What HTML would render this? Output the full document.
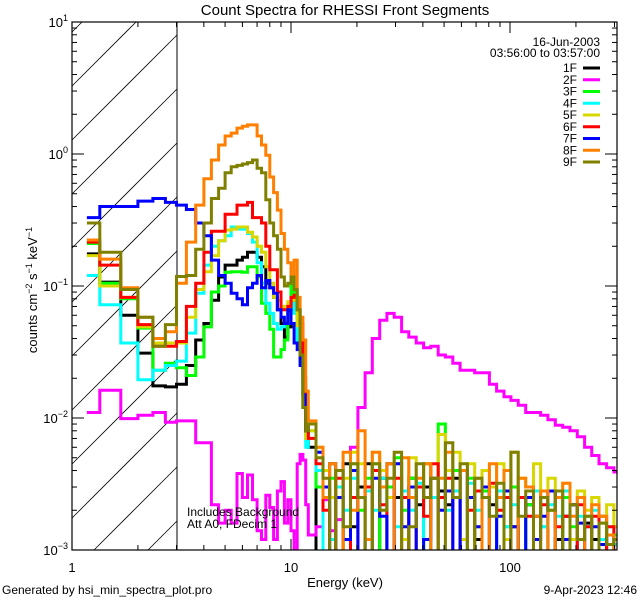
<!DOCTYPE html>
<html><head><meta charset="utf-8">
<style>
html,body{margin:0;padding:0;background:#fff;overflow:hidden;}
svg{display:block;font-family:"Liberation Sans",sans-serif;}
</style></head>
<body>
<svg id="chart" width="640" height="600" viewBox="0 0 640 600" xmlns="http://www.w3.org/2000/svg">
<defs><clipPath id="plotclip"><rect x="72" y="22" width="545" height="528"/></clipPath></defs>
<rect width="640" height="600" fill="#fff"/>
<g id="hatch"></g>
<line x1="177" y1="22" x2="177" y2="550" stroke="#000" stroke-width="1"/>
<g id="series" clip-path="url(#plotclip)"></g>
<rect x="72" y="22" width="545" height="528" fill="none" stroke="#000" stroke-width="1.2"/>
<g id="ticks" stroke="#000" stroke-width="1"></g>
<g id="labels" font-size="13" fill="#000"></g>
<text x="345" y="15" font-size="15" text-anchor="middle">Count Spectra for RHESSI Front Segments</text>
<text x="345" y="587" font-size="13" text-anchor="middle">Energy (keV)</text>
<text transform="translate(37,290) rotate(-90)" font-size="13" text-anchor="middle">counts cm<tspan font-size="9" dy="-5">−2</tspan><tspan dy="5"> s</tspan><tspan font-size="9" dy="-5">−1</tspan><tspan dy="5"> keV</tspan><tspan font-size="9" dy="-5">−1</tspan></text>
<text x="187" y="516" font-size="12">Includes Background</text>
<text x="187" y="528" font-size="12">Att A0, FDecim 1</text>
<text x="600" y="46" font-size="12" text-anchor="end">16-Jun-2003</text>
<text x="600" y="57" font-size="12" text-anchor="end">03:56:00 to 03:57:00</text>
<g id="legend" font-size="12"></g>
<text x="2" y="594" font-size="12">Generated by hsi_min_spectra_plot.pro</text>
<text x="637" y="594" font-size="12" text-anchor="end">9-Apr-2023 12:46</text>
</svg>
<script>
// energy bin edges (keV)
const edges = [1.17,1.34,1.67,2.0,2.34,2.67,3.0,
 3.33,3.67,4,4.33,4.67,5,5.33,5.67,6,6.33,6.67,7,7.33,7.67,8,8.33,8.67,9,9.33,9.67,10,10.33,10.67,11,11.33,11.67,12,
 13,14,15,16,17.3,18.7,20.2,21.8,23.5,25.4,27.4,29.6,32,34.5,37.3,40.3,43.5,47,50.7,54.8,59.2,63.9,69,74.5,80.5,86.9,93.9,101,109,118,128,138,149,161,174,188,203,219,236,255,276,298,310];
const segNames = ["1F","2F","3F","4F","5F","6F","7F","8F","9F"];
const segColors = ["#000000","#ff00ff","#00ff00","#00ffff","#d8d800","#ff0000","#0000ff","#ff8000","#808000"];
const s1F = [0.175,0.107,0.06,0.031,0.0175,0.0172,
 0.018,0.025,0.039,0.052,0.078,0.117,0.144,0.144,0.157,0.165,0.18,0.18,0.165,0.14,0.105,0.097,0.082,0.066,0.052,0.041,0.049,0.066,0.082,0.058,0.047,0.015,0.008,
 0.006,0.0007,0.0025,0.0045,0.0007,0.0045,0.0015,0.003,0.0045,0.0007,0.0035,0.0045,0.0025,0.0007,0.0035,0.0022,0.003,0.0007,0.0028,0.0022,0.0035,0.0007,0.0025,0.0012,0.0028,0.0022,0.0007,0.0025,0.0015,0.0007,0.0022,0.0018,0.0025,0.0007,0.0012,0.0018,0.0022,0.0007,0.0016,0.0012,0.0018,0.0007,0.0013];
const s2F = [0.011,0.0162,0.0099,0.0105,0.011,0.0093,
 0.0095,0.0095,0.0065,0.0065,0.0022,0.0016,0.002,0.0016,0.0038,0.0025,0.0037,0.0024,0.0014,0.0012,0.0026,0.0021,0.0012,0.0028,0.0033,0.0016,0.0024,0.0014,0.0009,0.0045,0.0053,0.0048,0.0022,
 0.0013,0.0015,0.0024,0.0014,0.0017,0.0012,0.006,0.012,0.022,0.04,0.055,0.062,0.058,0.045,0.041,0.037,0.034,0.035,0.03,0.029,0.026,0.023,0.023,0.022,0.022,0.018,0.016,0.0145,0.0136,0.0125,0.011,0.011,0.0105,0.0097,0.0088,0.0085,0.008,0.0072,0.006,0.0052,0.0045,0.0042,0.0039];
const s3F = [0.21,0.105,0.08,0.048,0.023,0.026,
 0.024,0.021,0.029,0.049,0.09,0.1,0.127,0.128,0.128,0.127,0.14,0.14,0.117,0.074,0.062,0.047,0.029,0.029,0.033,0.039,0.062,0.11,0.082,0.052,0.035,0.012,0.007,
 0.008,0.003,0.0007,0.0035,0.0025,0.0007,0.0045,0.002,0.0035,0.0045,0.0007,0.003,0.005,0.002,0.0035,0.0007,0.0045,0.0025,0.009,0.0028,0.004,0.0007,0.0035,0.0015,0.0028,0.0007,0.0025,0.0015,0.003,0.0007,0.0022,0.0028,0.0015,0.002,0.0007,0.0025,0.0015,0.0012,0.0018,0.0007,0.0016,0.0011,0.0013];
const s4F = [0.12,0.072,0.037,0.0195,0.023,0.025,
 0.027,0.044,0.088,0.144,0.2,0.22,0.24,0.28,0.27,0.27,0.25,0.215,0.15,0.105,0.074,0.062,0.052,0.047,0.049,0.052,0.066,0.062,0.074,0.037,0.026,0.012,0.006,
 0.007,0.004,0.0007,0.0012,0.003,0.002,0.0035,0.0007,0.0028,0.002,0.0035,0.0007,0.0015,0.0028,0.002,0.0032,0.0007,0.0025,0.0035,0.002,0.0028,0.0007,0.0032,0.002,0.0025,0.0007,0.0028,0.0015,0.0022,0.0025,0.0007,0.0028,0.0015,0.0022,0.0018,0.0028,0.0007,0.0018,0.0015,0.002,0.0012,0.0015,0.0011];
const s5F = [0.17,0.10,0.082,0.049,0.037,0.037,
 0.037,0.058,0.094,0.128,0.17,0.22,0.265,0.27,0.28,0.28,0.255,0.235,0.2,0.18,0.14,0.105,0.082,0.078,0.07,0.066,0.076,0.082,0.078,0.05,0.03,0.012,0.007,
 0.008,0.006,0.004,0.0025,0.004,0.0035,0.0055,0.0045,0.0012,0.0055,0.004,0.0025,0.0045,0.0012,0.005,0.003,0.0045,0.0035,0.0075,0.004,0.0055,0.0012,0.0045,0.0028,0.004,0.003,0.0045,0.0012,0.0055,0.0035,0.003,0.0045,0.0025,0.0035,0.0028,0.0032,0.0012,0.0028,0.002,0.0025,0.0018,0.0022,0.0015];
const s6F = [0.215,0.144,0.082,0.051,0.035,0.035,
 0.038,0.07,0.105,0.18,0.26,0.26,0.35,0.35,0.41,0.41,0.43,0.33,0.33,0.30,0.2,0.133,0.133,0.09,0.066,0.066,0.07,0.082,0.085,0.066,0.052,0.02,0.008,
 0.007,0.0045,0.002,0.0007,0.0035,0.0007,0.0025,0.0007,0.003,0.004,0.0022,0.0007,0.0035,0.0025,0.0007,0.003,0.0018,0.0045,0.0025,0.0035,0.0007,0.004,0.002,0.0028,0.0007,0.0032,0.002,0.0025,0.0007,0.0025,0.0018,0.0007,0.0022,0.0028,0.0015,0.0018,0.0007,0.0022,0.0015,0.0018,0.0007,0.0015,0.0012];
const s7F = [0.33,0.40,0.40,0.44,0.46,0.43,
 0.41,0.38,0.30,0.24,0.157,0.12,0.105,0.088,0.08,0.072,0.097,0.105,0.12,0.097,0.11,0.097,0.088,0.066,0.058,0.052,0.066,0.052,0.037,0.033,0.025,0.015,0.008,
 0.009,0.0055,0.003,0.0007,0.0025,0.0012,0.004,0.0007,0.0012,0.0035,0.0018,0.0007,0.0045,0.0015,0.003,0.0007,0.0012,0.0035,0.002,0.0028,0.0007,0.004,0.0025,0.0015,0.003,0.0007,0.0018,0.0028,0.0015,0.0007,0.0025,0.0012,0.0018,0.0028,0.0007,0.0012,0.0022,0.0016,0.0007,0.0015,0.0011,0.0013,0.0007];
const s8F = [0.223,0.16,0.097,0.058,0.04,0.045,
 0.105,0.215,0.41,0.65,0.90,1.17,1.37,1.44,1.57,1.62,1.66,1.66,1.37,1.17,0.98,0.67,0.51,0.376,0.25,0.19,0.15,0.117,0.157,0.082,0.058,0.039,0.016,
 0.0095,0.006,0.0025,0.0045,0.0007,0.0055,0.002,0.008,0.0012,0.0055,0.003,0.0045,0.0007,0.005,0.0025,0.0035,0.0045,0.0007,0.0035,0.0055,0.0025,0.004,0.0007,0.0035,0.0007,0.0045,0.0025,0.004,0.0007,0.0035,0.003,0.0018,0.0028,0.0007,0.0025,0.0032,0.0018,0.0025,0.0007,0.0022,0.0018,0.0013,0.0007];
const s9F = [0.30,0.18,0.094,0.058,0.035,0.051,
 0.118,0.12,0.19,0.30,0.46,0.55,0.72,0.80,0.82,0.84,0.86,0.90,0.78,0.72,0.45,0.30,0.24,0.19,0.117,0.10,0.105,0.117,0.094,0.066,0.03,0.012,0.008,
 0.009,0.005,0.0035,0.0007,0.004,0.0015,0.0045,0.0025,0.0007,0.0045,0.002,0.0035,0.0055,0.0007,0.0015,0.0045,0.0025,0.0035,0.0007,0.0065,0.0025,0.0045,0.0007,0.0035,0.0025,0.0018,0.0032,0.0007,0.0055,0.0018,0.0028,0.0007,0.0025,0.002,0.0028,0.0007,0.0022,0.0012,0.0018,0.0007,0.0016,0.0011,0.0012];
const xTickLabels = ["1","10","100"];
const xTickValues = [1,10,100];
const yTickExps = ["1","0","−1","−2","−3"];
const yTickValues = [10,1,0.1,0.01,0.001];

const NS="http://www.w3.org/2000/svg";
const L=72,R=617,T=22,B=550,DEC_X=219,DEC_Y=132;
const HX=177;
function xs(e){return L+DEC_X*Math.log10(e);}
function ys(v){let y=T+(1-Math.log10(v))*DEC_Y;return Math.max(T-5,Math.min(B+5,y));}
function mk(tag,attrs,parent){const el=document.createElementNS(NS,tag);for(const k in attrs)el.setAttribute(k,attrs[k]);parent.appendChild(el);return el;}

// hatch: 45-degree lines clipped manually to [L,HX]x[T,B]
const hatch=document.getElementById('hatch');
for(let c=86-54*3;c<B+(HX-L);c+=54){
  // line: y = c - (x - L)
  let xa=L, ya=c;
  if(ya>B){xa=L+(ya-B);ya=B;}
  let xb=HX, yb=c-(HX-L);
  if(yb<T){xb=L+(c-T);yb=T;}
  if(xa>=xb)continue;
  const ln=mk('line',{x1:xa,y1:ya,x2:xb,y2:yb,stroke:'#000','stroke-width':0.8},hatch);
  
  
}

// series
const allSeries=[s1F,s2F,s3F,s4F,s5F,s6F,s7F,s8F,s9F];
const sg=document.getElementById('series');
allSeries.forEach((vals,i)=>{
  let d='';
  for(let k=0;k<vals.length;k++){
    const x0=xs(edges[k]),x1=xs(edges[k+1]),y=ys(vals[k]);
    d+=(k===0?('M'+x0.toFixed(1)+','+y.toFixed(1)):('V'+y.toFixed(1)))+'H'+x1.toFixed(1);
  }
  const p=mk('path',{d:d,fill:'none',stroke:segColors[i],'stroke-width':3,'stroke-linejoin':'miter'},sg);
  
  
});

// ticks
const tg=document.getElementById('ticks');
function tick(x1,y1,x2,y2,name){const t=mk('line',{x1:x1,y1:y1,x2:x2,y2:y2},tg);}
for(let dec=1;dec<=100;dec*=10){
  for(let m=1;m<=9;m++){
    const e=dec*m;const x=xs(e);if(x>R+0.5)continue;
    const len=(m===1)?11:5;
    tick(x,B,x,B-len,'x-tick');
    tick(x,T,x,T+len,'x-tick-top');
  }
}
for(let dec=0.001;dec<=10;dec*=10){
  for(let m=1;m<=9;m++){
    const v=dec*m;if(v>10.0001)continue;const y=ys(v);
    const len=(m===1)?12:5;
    tick(L,y,L+len,y,'y-tick');
    tick(R,y,R-len,y,'y-tick-right');
  }
}
// labels
const lg=document.getElementById('labels');
xTickValues.forEach((v,i)=>{
  const t=mk('text',{x:xs(v),y:572,'text-anchor':'middle'},lg);
  t.textContent=xTickLabels[i];
  
  
});
yTickValues.forEach((v,i)=>{
  const t=mk('text',{x:L-4,y:ys(v)+5,'text-anchor':'end'},lg);
  
  
  const a=document.createElementNS(NS,'tspan');a.textContent='10';t.appendChild(a);
  const b=document.createElementNS(NS,'tspan');b.setAttribute('font-size','9');b.setAttribute('dy','-6');b.textContent=yTickExps[i];t.appendChild(b);
});
// legend
const leg=document.getElementById('legend');
segNames.forEach((n,i)=>{
  const y=68+i*11.75;
  const t=mk('text',{x:577,y:y+4,'text-anchor':'end'},leg);
  t.textContent=n;
  
  
  const l=mk('line',{x1:583,y1:y,x2:600,y2:y,stroke:segColors[i],'stroke-width':3},leg);
  
  
});
</script>
</body></html>
